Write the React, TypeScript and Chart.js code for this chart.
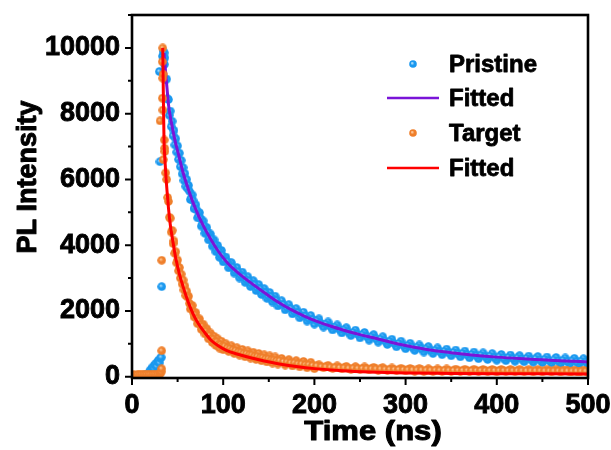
import React, { useEffect, useRef } from "react";
import { Chart, registerables } from "chart.js";

Chart.register(...registerables);

// ---- axis ticks ----
const xTicks = [0, 100, 200, 300, 400, 500];
const xMinorTicks = [50, 150, 250, 350, 450];
const yTicks = [0, 2000, 4000, 6000, 8000, 10000];
const yMinorTicks = [1000, 3000, 5000, 7000, 9000, 11000];

// ---- legend labels ----
const legendLabels = ["Pristine", "Fitted", "Target", "Fitted"];

// ---- rising edge / baseline samples ----
const pristineRiseTime = [0, 2, 4, 6, 8, 10, 12, 14, 16, 18, 19, 20, 21, 22, 23, 24, 25, 26, 27, 28, 29, 30, 31, 32, 30, 30.7, 32.6, 33.4, 34, 34.6, 35.2, 35.6];
const pristineRiseValue = [30, 40, 35, 45, 40, 50, 45, 55, 60, 80, 150, 200, 180, 260, 300, 240, 350, 400, 320, 450, 500, 420, 560, 590, 9280, 6540, 2740, 9750, 9900, 9650, 9850, 9500];

const targetRiseTime = [0, 2, 4, 6, 8, 10, 12, 14, 16, 18, 20, 22, 24, 26, 28, 30, 31, 32, 32.5, 32.6, 32.6, 30.8, 33.2, 33.3, 33.6, 33.7, 33.8, 34.2, 34.3, 35.4, 35.8];
const targetRiseValue = [50, 55, 50, 60, 55, 60, 55, 60, 65, 60, 65, 60, 70, 65, 70, 80, 100, 150, 240, 790, 3540, 7780, 9580, 8470, 9080, 10000, 8110, 9200, 6600, 7200, 6950];

// ---- decay samples (shared time axis) ----
const decayTime = [
  36, 37, 38, 39, 40, 41, 42, 43, 44, 45, 46, 47, 48, 49, 50, 51, 52, 53, 54, 55, 56, 57, 58, 59, 60,
  62, 64, 66, 68, 70, 72, 74, 76, 78, 80, 82, 84, 86, 88, 90, 92, 94, 96, 98, 100,
  103, 106, 109, 112, 115, 118, 121, 124, 127, 130, 133, 136, 139, 142, 145, 148, 151, 154, 157, 160,
  164, 168, 172, 176, 180, 184, 188, 192, 196, 200,
  205, 210, 215, 220, 225, 230, 235, 240, 245, 250, 255, 260, 265, 270, 275, 280, 285, 290, 295, 300,
  305, 310, 315, 320, 325, 330, 335, 340, 345, 350, 355, 360, 365, 370, 375, 380, 385, 390, 395, 400,
  405, 410, 415, 420, 425, 430, 435, 440, 445, 450, 455, 460, 465, 470, 475, 480, 485, 490, 495, 500,
];

const pristineDecay = [
  9700, 9050, 9050, 8450, 8430, 7950, 8080, 7610, 7770, 7330, 7490, 7050, 7240, 6830, 7020, 6610, 6800, 6390, 6580, 6170, 6360, 5970, 6180, 5790, 6000,
  5820, 5390, 5530, 5110, 5230, 4830, 4990, 4580, 4740, 4360, 4540, 4160, 4340, 3970, 4160, 3800, 3990, 3630, 3840, 3490,
  3640, 3310, 3470, 3150, 3320, 3000, 3180, 2870, 3040, 2740, 2920, 2620, 2800, 2500, 2680, 2380, 2560, 2270, 2450, 2150,
  2310, 2030, 2190, 1910, 2070, 1790, 1960, 1690, 1860, 1600,
  1760, 1510, 1665, 1420, 1575, 1330, 1490, 1250, 1415, 1180, 1345, 1110, 1280, 1050, 1215, 980, 1140, 910, 1080, 850,
  1015, 800, 965, 750, 915, 705, 875, 670, 840, 635, 810, 605, 780, 575, 750, 548, 726, 524, 702, 500,
  676, 487, 658, 469, 640, 453, 626, 439, 612, 425, 598, 411, 584, 397, 570, 384, 558, 372, 546, 360,
];

const targetDecay = [
  6850, 6200, 6000, 5450, 5330, 4850, 4820, 4400, 4450, 4050, 4130, 3750, 3800, 3460, 3550, 3220, 3320, 3000, 3120, 2820, 2940, 2640, 2760, 2470, 2600,
  2450, 2060, 2170, 1820, 1950, 1610, 1760, 1440, 1600, 1300, 1460, 1150, 1330, 1040, 1230, 950, 1150, 870, 1080, 820,
  1000, 770, 940, 710, 880, 655, 830, 605, 785, 565, 745, 525, 705, 485, 665, 448, 632, 416, 600, 385,
  555, 355, 520, 325, 490, 297, 464, 271, 438, 245,
  360, 270, 345, 255, 330, 240, 315, 230, 305, 220, 295, 210, 285, 200, 275, 195, 265, 185, 255, 180,
  250, 170, 245, 165, 240, 165, 235, 160, 235, 160, 230, 160, 225, 155, 225, 155, 220, 155, 220, 150,
  220, 160, 215, 155, 215, 155, 210, 150, 210, 150, 205, 150, 205, 145, 200, 145, 200, 145, 200, 140,
];

// ---- in-between decay samples ----
const decayTimeMid = [
  61, 63, 65, 67, 69, 71, 73, 75, 77, 79, 81, 83, 85, 87, 89, 91, 93, 95, 97, 99,
  101.5, 104.5, 107.5, 110.5, 113.5, 116.5, 119.5, 122.5, 125.5, 128.5, 131.5, 134.5, 137.5, 140.5, 143.5, 146.5, 149.5, 152.5, 155.5, 158.5,
  162, 166, 170, 174, 178, 182, 186, 190, 194, 198,
  202.5, 207.5, 212.5, 217.5, 222.5, 227.5, 232.5, 237.5, 242.5, 247.5, 252.5, 257.5, 262.5, 267.5, 272.5, 277.5, 282.5, 287.5, 292.5, 297.5,
  302.5, 307.5, 312.5, 317.5, 322.5, 327.5, 332.5, 337.5, 342.5, 347.5, 352.5, 357.5, 362.5, 367.5, 372.5, 377.5, 382.5, 387.5, 392.5, 397.5,
  402.5, 407.5, 412.5, 417.5, 422.5, 427.5, 432.5, 437.5, 442.5, 447.5, 452.5, 457.5, 462.5, 467.5, 472.5, 477.5, 482.5, 487.5, 492.5, 497.5,
];

const pristineDecayMid = [
  5720, 5640, 5420, 5360, 5120, 5070, 4880, 4820, 4630, 4590, 4420, 4390, 4220, 4190, 4030, 4000, 3860, 3830, 3700, 3690,
  3540, 3500, 3370, 3330, 3210, 3180, 3070, 3040, 2940, 2910, 2810, 2790, 2690, 2670, 2570, 2550, 2450, 2430, 2340, 2320,
  2210, 2190, 2090, 2070, 1970, 1950, 1860, 1840, 1760, 1740,
  1700, 1620, 1600, 1530, 1510, 1440, 1425, 1355, 1345, 1285, 1275, 1215, 1210, 1150, 1145, 1085, 1075, 1010, 1010, 950,
  950, 895, 898, 845, 848, 797, 805, 758, 770, 724, 737, 694, 708, 664, 678, 636, 652, 611, 628, 587,
  605, 568, 587, 550, 570, 533, 555, 519, 541, 505, 527, 492, 513, 477, 499, 464, 486, 452, 474, 440,
];

const targetDecayMid = [
  2420, 2230, 2120, 1970, 1890, 1760, 1690, 1580, 1530, 1420, 1380, 1290, 1250, 1160, 1140, 1070, 1060, 990, 980, 930,
  930, 880, 860, 820, 800, 760, 745, 710, 700, 670, 660, 625, 620, 590, 580, 550, 545, 515, 510, 490,
  490, 460, 450, 425, 420, 395, 390, 370, 365, 345,
  330, 305, 300, 290, 285, 275, 270, 262, 262, 255, 252, 245, 240, 238, 235, 228, 225, 222, 220, 215,
  210, 208, 205, 205, 200, 200, 198, 197, 195, 195, 193, 192, 190, 190, 188, 188, 187, 186, 185, 185,
  183, 183, 182, 182, 180, 180, 178, 178, 177, 177, 176, 176, 175, 175, 173, 173, 172, 172, 170, 170,
];

// ---- fitted curves ----
const pristineFitTime = [35, 36, 37, 38, 40, 43, 47, 51, 56, 62, 69, 78, 87, 95, 105, 118, 130, 145, 160, 175, 190, 205, 220, 235, 250, 268, 285, 300, 325, 350, 375, 400, 425, 450, 475, 500];
const pristineFitValue = [9850, 9550, 9200, 8900, 8280, 7760, 7200, 6760, 6210, 5680, 5150, 4600, 4150, 3800, 3450, 3120, 2860, 2560, 2270, 2030, 1830, 1660, 1520, 1390, 1280, 1160, 1040, 950, 820, 730, 655, 595, 550, 515, 480, 450];

const targetFitTime = [33.7, 34.4, 35.1, 36, 37, 38.5, 40, 42, 44.6, 48, 52, 56, 60, 64, 68, 73, 80, 87, 95, 104, 115, 130, 145, 160, 180, 200, 230, 260, 300, 350, 400, 450, 500];
const targetFitValue = [10000, 8500, 7200, 6650, 6180, 5620, 5130, 4620, 4150, 3600, 3120, 2740, 2400, 2100, 1850, 1600, 1330, 1100, 930, 790, 690, 575, 475, 395, 310, 245, 180, 140, 112, 100, 92, 86, 80];

const BLUE = "#1a98ef";
const ORANGE = "#ef7f2b";
const PURPLE = "#7a14d8";
const RED = "#ff0000";

function toPoints(xs: number[], ys: number[]) {
  return xs.map((x, i) => ({ x, y: ys[i] }));
}

function makeSphere(inner: string, outer: string, d: number) {
  const c = document.createElement("canvas");
  c.width = d;
  c.height = d;
  const g = c.getContext("2d")!;
  const r = d / 2;
  const grad = g.createRadialGradient(r - 1, r - 1, 0.2, r, r, r);
  grad.addColorStop(0, inner);
  grad.addColorStop(0.45, outer);
  grad.addColorStop(1, outer);
  g.fillStyle = grad;
  g.beginPath();
  g.arc(r, r, r - 0.2, 0, Math.PI * 2);
  g.fill();
  return c;
}

const FONT = "'Liberation Sans', Arial, Helvetica, sans-serif";

export default function App() {
  const ref = useRef<HTMLCanvasElement | null>(null);

  useEffect(() => {
    document.body.style.margin = "0";
    const canvas = ref.current;
    if (!canvas) return;
    const blueSphere = makeSphere("#a6dcff", BLUE, 9);
    const orangeSphere = makeSphere("#ffc995", ORANGE, 9);
    const blueLegend = makeSphere("#c4e8ff", BLUE, 8);
    const orangeLegend = makeSphere("#ffd6ae", ORANGE, 8);

    const heavyText = (ctx: CanvasRenderingContext2D, t: string, x: number, y: number) => {
      ctx.strokeText(t, x, y);
      ctx.fillText(t, x, y);
    };

    const framePlugin = {
      id: "frameAndLegend",
      afterDatasetsDraw(chart: any) {
        const { ctx, chartArea: a, scales } = chart;
        const xs = scales.x;
        const ys = scales.y;
        ctx.save();
        ctx.strokeStyle = "#000";
        ctx.lineWidth = 2.6;
        ctx.strokeRect(a.left, a.top, a.right - a.left, a.bottom - a.top);
        ctx.lineWidth = 2;
        ctx.beginPath();
        xTicks.forEach((v) => {
          const px = xs.getPixelForValue(v);
          ctx.moveTo(px, a.bottom);
          ctx.lineTo(px, a.bottom + 7);
        });
        xMinorTicks.forEach((v) => {
          const px = xs.getPixelForValue(v);
          ctx.moveTo(px, a.bottom);
          ctx.lineTo(px, a.bottom + 4);
        });
        yTicks.forEach((v) => {
          const py = ys.getPixelForValue(v);
          ctx.moveTo(a.left, py);
          ctx.lineTo(a.left - 7, py);
        });
        yMinorTicks.forEach((v) => {
          const py = ys.getPixelForValue(v);
          ctx.moveTo(a.left, py);
          ctx.lineTo(a.left - 4, py);
        });
        ctx.stroke();

        // axis titles
        ctx.fillStyle = "#000";
        ctx.strokeStyle = "#000";
        ctx.lineWidth = 1;
        ctx.lineJoin = "round";
        ctx.font = `bold 27px ${FONT}`;
        ctx.textAlign = "center";
        ctx.textBaseline = "alphabetic";
        ctx.save();
        ctx.translate(373, 440);
        ctx.scale(1.15, 1);
        heavyText(ctx, "Time (ns)", 0, 0);
        ctx.restore();
        ctx.save();
        ctx.translate(36, 177);
        ctx.rotate(-Math.PI / 2);
        heavyText(ctx, "PL Intensity", 0, 0);
        ctx.restore();

        // legend
        ctx.font = `bold 24px ${FONT}`;
        ctx.textAlign = "left";
        ctx.textBaseline = "middle";
        const rows = [64, 98, 133, 168];
        ctx.drawImage(blueLegend, 413 - 4, rows[0] - 4);
        ctx.drawImage(orangeLegend, 413 - 4, rows[2] - 4);
        ctx.lineWidth = 2.7;
        ctx.strokeStyle = PURPLE;
        ctx.beginPath();
        ctx.moveTo(387, rows[1]);
        ctx.lineTo(439, rows[1]);
        ctx.stroke();
        ctx.strokeStyle = RED;
        ctx.beginPath();
        ctx.moveTo(387, rows[3]);
        ctx.lineTo(439, rows[3]);
        ctx.stroke();
        ctx.strokeStyle = "#000";
        ctx.lineWidth = 0.8;
        legendLabels.forEach((t, i) => heavyText(ctx, t, 449, rows[i] + 1));
        ctx.restore();
      },
    };

    const tickFont = { family: FONT, weight: "bold", size: 27 };

    const chart = new Chart(canvas, {
      type: "scatter",
      data: {
        datasets: [
          {
            type: "scatter",
            label: "Pristine",
            data: [
              ...toPoints(pristineRiseTime, pristineRiseValue),
              ...toPoints(decayTime, pristineDecay),
              ...toPoints(decayTimeMid, pristineDecayMid),
            ],
            pointStyle: blueSphere as any,
            pointRadius: 4.5,
            order: 4,
          },
          {
            type: "line",
            label: "Fitted",
            data: toPoints(pristineFitTime, pristineFitValue),
            borderColor: PURPLE,
            borderWidth: 3,
            pointRadius: 0,
            showLine: true,
            cubicInterpolationMode: "monotone",
            fill: false,
            order: 3,
          },
          {
            type: "scatter",
            label: "Target",
            data: [
              ...toPoints(targetRiseTime, targetRiseValue),
              ...toPoints(decayTime, targetDecay),
              ...toPoints(decayTimeMid, targetDecayMid),
            ],
            pointStyle: orangeSphere as any,
            pointRadius: 4.5,
            order: 2,
          },
          {
            type: "line",
            label: "Fitted",
            data: toPoints(targetFitTime, targetFitValue),
            borderColor: RED,
            borderWidth: 3,
            pointRadius: 0,
            showLine: true,
            cubicInterpolationMode: "monotone",
            fill: false,
            order: 1,
          },
        ] as any,
      },
      options: {
        animation: false,
        responsive: false,
        events: [],
        layout: { padding: { left: 0, right: 23, top: 15, bottom: 0 } },
        plugins: { legend: { display: false }, tooltip: { enabled: false } },
        scales: {
          x: {
            type: "linear",
            position: "bottom",
            min: 0,
            max: 500,
            grid: { display: false, drawTicks: false },
            border: { display: false },
            afterBuildTicks: (s: any) => {
              s.ticks = xTicks.map((v) => ({ value: v }));
            },
            afterFit: (s: any) => {
              s.height = 72;
              s.paddingLeft = 0;
              s.paddingRight = 0;
            },
            ticks: {
              autoSkip: false,
              maxRotation: 0,
              padding: 11,
              color: "#000",
              textStrokeColor: "#000",
              textStrokeWidth: 0.9,
              font: tickFont,
              callback: (v: any) => String(v),
            },
          },
          y: {
            type: "linear",
            min: -40,
            max: 11000,
            grid: { display: false, drawTicks: false },
            border: { display: false },
            afterBuildTicks: (s: any) => {
              s.ticks = yTicks.map((v) => ({ value: v }));
            },
            afterFit: (s: any) => {
              s.width = 132;
              s.paddingTop = 0;
              s.paddingBottom = 0;
            },
            ticks: {
              autoSkip: false,
              padding: 12,
              color: "#000",
              textStrokeColor: "#000",
              textStrokeWidth: 0.9,
              font: tickFont,
              callback: (v: any) => String(v),
            },
          },
        },
      } as any,
      plugins: [framePlugin],
    });

    return () => chart.destroy();
  }, []);

  return (
    <div style={{ width: 611, height: 450 }}>
      <canvas ref={ref} width={611} height={450} style={{ display: "block" }} />
    </div>
  );
}
